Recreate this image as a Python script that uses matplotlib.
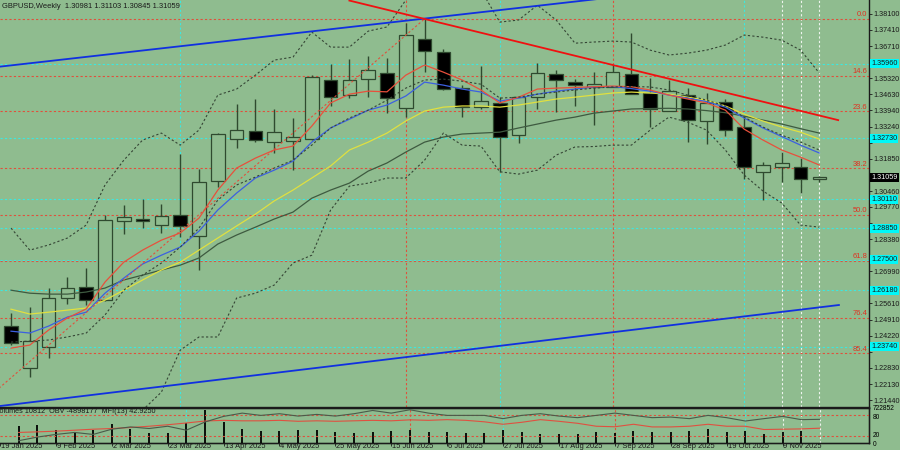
import numpy as np
import matplotlib.pyplot as plt
from matplotlib.transforms import blended_transform_factory

plt.rcParams['font.family'] = ['Liberation Sans', 'DejaVu Sans']

bg = '#8fbc8f'

# weekly candles, week 0 = 26 Jan 2025
opens = [1.2465, 1.2283, 1.2372, 1.2583, 1.2630, 1.2574, 1.2915, 1.2927, 1.2901, 1.2941,
         1.2852, 1.3089, 1.3269, 1.3305, 1.3259, 1.3262, 1.3269, 1.3524, 1.3459, 1.3528,
         1.3554, 1.3403, 1.3704, 1.3645, 1.3489, 1.3410, 1.3427, 1.3289, 1.3451, 1.3551,
         1.3515, 1.3494, 1.3496, 1.3551, 1.3468, 1.3393, 1.3460, 1.3350, 1.3429, 1.3324,
         1.3129, 1.3151, 1.3151, 1.30981]
highs = [1.2521, 1.2547, 1.2626, 1.2676, 1.2712, 1.2943, 1.2986, 1.3013, 1.2990, 1.3206,
         1.3142, 1.3298, 1.3422, 1.3443, 1.3400, 1.3360, 1.3547, 1.3593, 1.3615, 1.3630,
         1.3621, 1.3771, 1.3789, 1.3658, 1.3504, 1.3587, 1.3453, 1.3455, 1.3597, 1.3568,
         1.3529, 1.3558, 1.3590, 1.3727, 1.3532, 1.3525, 1.3489, 1.3470, 1.3442, 1.3367,
         1.3172, 1.3213, 1.3190, 1.31103]
lows = [1.2381, 1.2245, 1.2327, 1.2558, 1.2554, 1.2570, 1.2859, 1.2885, 1.2864, 1.2849,
        1.2705, 1.3062, 1.3233, 1.3259, 1.3209, 1.3137, 1.3266, 1.3413, 1.3449, 1.3453,
        1.3381, 1.3367, 1.3561, 1.3482, 1.3364, 1.3399, 1.3129, 1.3252, 1.3399, 1.3388,
        1.3413, 1.3330, 1.3494, 1.3465, 1.3324, 1.3390, 1.3259, 1.3248, 1.3285, 1.3096,
        1.3007, 1.3084, 1.3036, 1.30845]
closes = [1.2389, 1.2399, 1.2583, 1.2629, 1.2576, 1.2921, 1.2934, 1.2915, 1.2939, 1.2895,
          1.3084, 1.3291, 1.3308, 1.3268, 1.3301, 1.3279, 1.3538, 1.3450, 1.3524, 1.3570,
          1.3446, 1.3718, 1.3650, 1.3486, 1.3407, 1.3436, 1.3278, 1.3451, 1.3554, 1.3525,
          1.3502, 1.3507, 1.3558, 1.3466, 1.3400, 1.3476, 1.3353, 1.3425, 1.3309, 1.3151,
          1.3158, 1.3168, 1.3096, 1.31059]

# indicator lines
ma_red = [1.2368, 1.2381, 1.2446, 1.2498, 1.2537, 1.2653, 1.2739, 1.2791, 1.2834, 1.2865,
          1.2929, 1.3050, 1.3145, 1.3188, 1.3223, 1.3240, 1.3326, 1.3426, 1.3464, 1.3477,
          1.3474, 1.3546, 1.3590, 1.3559, 1.3525, 1.3482, 1.3426, 1.3451, 1.3486, 1.3490,
          1.3493, 1.3496, 1.3499, 1.3496, 1.3482, 1.3460, 1.3443, 1.3426, 1.3395, 1.3313,
          1.3266, 1.3223, 1.3192, 1.3158]
ma_blue = [1.2441, 1.2433, 1.2463, 1.2502, 1.2523, 1.2605, 1.2670, 1.2731, 1.2769, 1.2804,
           1.2873, 1.2964, 1.3037, 1.3102, 1.3136, 1.3175, 1.3257, 1.3318, 1.3356, 1.3395,
           1.3417, 1.3456, 1.3516, 1.3503, 1.3486, 1.3473, 1.3434, 1.3447, 1.3464, 1.3477,
           1.3486, 1.3495, 1.3497, 1.3488, 1.3477, 1.3460, 1.3447, 1.3432, 1.3408, 1.3361,
           1.3318, 1.3281, 1.3244, 1.3210]
ma_yellow = [1.2536, 1.2515, 1.2523, 1.2532, 1.2541, 1.2575, 1.2618, 1.2662, 1.2705, 1.2739,
             1.2791, 1.2843, 1.2895, 1.2946, 1.3003, 1.3050, 1.3102, 1.3154, 1.3223, 1.3257,
             1.3296, 1.3348, 1.3391, 1.3408, 1.3413, 1.3413, 1.3408, 1.3417, 1.3430, 1.3443,
             1.3451, 1.3460, 1.3469, 1.3473, 1.3469, 1.3464, 1.3451, 1.3438, 1.3413, 1.3378,
             1.3348, 1.3322, 1.3300, 1.3270]
ma_slow = [1.2618, 1.2605, 1.2601, 1.2601, 1.2610, 1.2627, 1.2662, 1.2683, 1.2705, 1.2726,
           1.2757, 1.2817, 1.2856, 1.2890, 1.2925, 1.2955, 1.3015, 1.3050, 1.3080, 1.3132,
           1.3167, 1.3214, 1.3257, 1.3279, 1.3292, 1.3296, 1.3300, 1.3318, 1.3335, 1.3352,
           1.3365, 1.3382, 1.3391, 1.3400, 1.3402, 1.3403, 1.3400, 1.3393, 1.3384, 1.3369,
           1.3352, 1.3335, 1.3315, 1.3296]
bb_mid = [1.2394, 1.2398, 1.2403, 1.2416, 1.2433, 1.2511, 1.2618, 1.2683, 1.2735, 1.2804,
          1.2886, 1.3007, 1.3072, 1.3106, 1.3145, 1.3179, 1.3244, 1.3318, 1.3361, 1.3395,
          1.3438, 1.3490, 1.3525, 1.3529, 1.3520, 1.3507, 1.3447, 1.3451, 1.3464, 1.3473,
          1.3482, 1.3490, 1.3495, 1.3497, 1.3495, 1.3482, 1.3460, 1.3438, 1.3413, 1.3365,
          1.3322, 1.3287, 1.3257, 1.3223]
bb_up = [1.2886, 1.2791, 1.2813, 1.2843, 1.2899, 1.3072, 1.3179, 1.3266, 1.3296, 1.3244,
         1.3309, 1.3460, 1.3486, 1.3546, 1.3611, 1.3624, 1.3732, 1.3667, 1.3667, 1.3736,
         1.3754, 1.3870, 1.3935, 1.3978, 1.3956, 1.3913, 1.3775, 1.3784, 1.3848, 1.3784,
         1.3684, 1.3689, 1.3693, 1.3689, 1.3654, 1.3633, 1.3641, 1.3654, 1.3676, 1.3719,
         1.3710, 1.3697, 1.3654, 1.3555]
bb_low = [1.1928, 1.1949, 1.1971, 1.1993, 1.2014, 1.2036, 1.2057, 1.2100, 1.2178, 1.2359,
          1.2416, 1.2416, 1.2584, 1.2605, 1.2640, 1.2735, 1.2769, 1.2964, 1.3067, 1.3080,
          1.3102, 1.3102, 1.3179, 1.3296, 1.3244, 1.3240, 1.3129, 1.3119, 1.3136, 1.3201,
          1.3236, 1.3238, 1.3244, 1.3244, 1.3309, 1.3365, 1.3343, 1.3309, 1.3223, 1.3115,
          1.3046, 1.2994, 1.2899, 1.2890]

volumes = [369000, 391000, 281000, 243000, 296000, 429000, 318000, 221000, 230000, 442000,
           722852, 464000, 318000, 259000, 265000, 281000, 281000, 243000, 230000, 243000,
           259000, 281000, 243000, 237000, 230000, 221000, 281000, 237000, 208000, 192000,
           192000, 237000, 230000, 259000, 237000, 237000, 265000, 309000, 252000, 259000,
           208000, 243000, 265000, 10812]
mfi = [30.6, 32.3, 34.3, 37.1, 40.0, 42.0, 44.9, 48.6, 52.9, 58.0,
       63.7, 65.7, 64.3, 64.3, 65.7, 62.9, 64.3, 62.9, 64.3, 65.7,
       64.3, 67.1, 65.7, 67.7, 65.7, 61.4, 54.3, 60.0, 67.7, 62.9,
       57.1, 48.6, 47.1, 54.3, 46.6, 46.6, 48.6, 54.3, 48.6, 48.6,
       39.1, 40.0, 40.9, 42.925]
obv_m = [-15.75, -13.90, -12.55, -11.55, -12.55, -9.90, -8.75, -9.55, -8.40, -10.40,
         -6.25, -3.40, -1.75, -2.90, -2.05, -3.25, -2.40, -3.25, -2.05, -0.40,
         -1.75, -0.05, -1.75, -2.90, -2.90, -2.90, -4.55, -2.90, -2.05, -3.25,
         -4.05, -2.90, -1.75, -2.90, -4.05, -3.75, -4.55, -2.90, -4.05, -5.75,
         -4.55, -3.40, -5.05, -4.898]

fibo_high = 1.3789
fibo_low = 1.2099
fibo_levels = [0.0, 14.6, 23.6, 38.2, 50.0, 61.8, 76.4, 85.4]
cyan_levels = [1.3596, 1.3273, 1.3011, 1.2885, 1.2750, 1.2618, 1.2374]
price_ticks = ['1.21440', '1.22130', '1.22830', '1.23520', '1.24220', '1.24910', '1.25610',
               '1.26300', '1.26990', '1.27690', '1.28380', '1.29080', '1.29770', '1.30460',
               '1.31160', '1.31850', '1.32550', '1.33240', '1.33940', '1.34630', '1.35320',
               '1.36020', '1.36710', '1.37410', '1.38100']
date_idx = [-1, 2, 5, 8, 11, 14, 17, 20, 23, 26, 29, 32, 35, 38, 41]
date_labels = ['19 Jan 2025', '9 Feb 2025', '2 Mar 2025', '23 Mar 2025', '13 Apr 2025',
               '4 May 2025', '25 May 2025', '15 Jun 2025', '6 Jul 2025', '27 Jul 2025',
               '17 Aug 2025', '7 Sep 2025', '28 Sep 2025', '19 Oct 2025', '9 Nov 2025']
cyan_vlines = [9, 26, 39]
red_vlines = [21, 32]
white_vlines = [41, 42, 43]

# trend lines (index, price) pairs
blue_upper = ([-1, 32], [1.3579, 1.3882])
blue_lower = ([-1, 44.04], [1.2114, 1.2554])
red_trend = ([18, 44.0], [1.3868, 1.3352])
fibo_base = ([-2, 22], [fibo_low, fibo_high])

weeks = np.arange(len(closes))
o = np.array(opens); c = np.array(closes)
h = np.array(highs); l = np.array(lows)
up = c >= o

edge = '#2f4a2f'
red_dot = '#e0503c'
cyan = '#3ce8e0'
txt = '#1a1a1a'
fs = 5.4      # dates, header, fibo labels
fs_ax = 5.2   # right-hand scale
xlim = (-0.585, 45.64)

fig = plt.figure(figsize=(9, 4.5), dpi=100, facecolor=bg)
ax = fig.add_axes([0, 1 - 407 / 450, 869 / 900, 407 / 450])
ind = fig.add_axes([0, 1 - 443 / 450, 869 / 900, 35.5 / 450])

for a in (ax, ind):
    a.set_facecolor(bg)
    a.set_xlim(*xlim)
    a.spines['left'].set_visible(False)
    for s in ('top', 'bottom', 'right'):
        a.spines[s].set_color(txt)
        a.spines[s].set_linewidth(1.0)
    for v in cyan_vlines:
        a.axvline(v, color=cyan, lw=0.8, ls=(0, (2, 2)), zorder=1)
    for v in red_vlines:
        a.axvline(v, color=red_dot, lw=0.8, ls=(0, (2, 2)), zorder=1)
    for v in white_vlines:
        a.axvline(v, color='#eef4ee', lw=0.8, ls=(0, (2, 2)), zorder=1)
ax.spines['top'].set_visible(False)

ax.set_ylim(1.21138, 1.38704)

# horizontal levels
for lv in fibo_levels:
    p = fibo_high - lv / 100 * (fibo_high - fibo_low)
    ax.axhline(p, color=red_dot, lw=0.8, ls=(0, (2, 2)), zorder=1)
    ax.text(45.55, p + 0.0003, f'{lv:.1f}', color='#e03020', fontsize=fs,
            ha='right', va='bottom', zorder=6)
for p in cyan_levels:
    ax.axhline(p, color=cyan, lw=0.8, ls=(0, (2, 2)), zorder=1)

# candles
ax.vlines(weeks, l, h, color=edge, lw=1.0, zorder=3)
ax.bar(weeks[up], (c - o)[up], bottom=o[up], width=0.72, color=bg,
       edgecolor=edge, linewidth=0.9, zorder=4)
ax.bar(weeks[~up], (o - c)[~up], bottom=c[~up], width=0.72, color='black',
       edgecolor=edge, linewidth=0.9, zorder=4)

# moving averages and bands
ax.plot(weeks, ma_slow, color='#3e5a40', lw=0.9, zorder=5)
ax.plot(weeks, ma_yellow, color='#e0e040', lw=0.9, zorder=5)
ax.plot(weeks, ma_blue, color='#3c60e0', lw=0.9, zorder=5)
ax.plot(weeks, ma_red, color='#e8503c', lw=0.9, zorder=5)
for band in (bb_up, bb_mid, bb_low):
    ax.plot(weeks, band, color='#354535', lw=0.8, ls=(0, (2, 2)), zorder=5)

# drawn objects
ax.plot(*fibo_base, color=red_dot, lw=0.8, ls=(0, (2, 2)), zorder=5)
ax.plot(*blue_upper, color='#1030e0', lw=1.3, zorder=6)
ax.plot(*blue_lower, color='#1030e0', lw=1.3, zorder=6)
ax.plot(*red_trend, color='#f01010', lw=1.3, zorder=6)

# price axis; labels hidden under the cyan / black boxes are left out
boxed = cyan_levels + [closes[-1]]
shown = ['' if min(abs(float(t) - b) for b in boxed) < 0.0025 else t for t in price_ticks]
ax.yaxis.tick_right()
ax.set_yticks([float(t) for t in price_ticks])
ax.set_yticklabels(shown, fontsize=fs_ax)
ax.tick_params(axis='y', length=2.5, width=0.6, pad=1, colors=txt)
ax.set_xticks([])

tr = blended_transform_factory(ax.transAxes, ax.transData)
for p in cyan_levels:
    ax.text(1.0025, p, f'{p:.5f}', transform=tr, fontsize=fs_ax, va='center', ha='left',
            color=txt, clip_on=False, zorder=8,
            bbox=dict(boxstyle='square,pad=0.15', fc='#00f8f8', ec='none'))
ax.text(1.0025, closes[-1], f'{closes[-1]:.5f}', transform=tr, fontsize=fs_ax, va='center',
        ha='left', color='white', clip_on=False, zorder=8,
        bbox=dict(boxstyle='square,pad=0.15', fc='black', ec='none'))

fig.text(2 / 900, 1 - 7 / 450,
         f'GBPUSD,Weekly  {opens[-1]:.5f} {highs[-1]:.5f} {lows[-1]:.5f} {closes[-1]:.5f}',
         fontsize=fs, va='center', ha='left', color=txt)

# indicator window: volumes, MFI, OBV
vmax = max(volumes) * 36 / 33
ind.set_ylim(0, vmax)
ind.vlines(weeks, 0, volumes, color='black', lw=1.3, zorder=3)
ind.set_yticks([])
mf = ind.twinx()
mf.set_ylim(0, 102.9)
mf.axhline(80, color=red_dot, lw=0.8, ls=(0, (2, 2)))
mf.axhline(20, color=red_dot, lw=0.8, ls=(0, (2, 2)))
mf.plot(weeks, mfi, color='#e05040', lw=0.8)
mf.set_yticks([])
ob = ind.twinx()
ob.set_ylim(-16.898, 1.102)
ob.plot(weeks, obv_m, color='#4a5a4a', lw=0.8)
ob.set_yticks([])
for a in (mf, ob):
    a.set_xlim(*xlim)
    a.spines['left'].set_visible(False)
    for s in ('top', 'bottom', 'right'):
        a.spines[s].set_color(txt)

ti = blended_transform_factory(ind.transAxes, ind.transData)
ind.text(1.004, max(volumes) * 1.06, str(max(volumes)), transform=ti, fontsize=4.8,
         va='center', ha='left', clip_on=False)
tm = blended_transform_factory(mf.transAxes, mf.transData)
mf.text(1.004, 75, '80', transform=tm, fontsize=4.8, va='center', ha='left', clip_on=False)
mf.text(1.004, 22, '20', transform=tm, fontsize=4.8, va='center', ha='left', clip_on=False)
mf.text(1.004, -4, '0', transform=tm, fontsize=4.8, va='center', ha='left', clip_on=False)

fig.text(-5 / 900, 1 - 411.5 / 450,
         f'Volumes {volumes[-1]}  OBV -4898177  MFI(13) {mfi[-1]:.4f}',
         fontsize=fs_ax, va='center', ha='left', color=txt)

ind.set_xticks(date_idx)
ind.set_xticklabels([])
ind.tick_params(axis='x', length=2, width=0.6, colors=txt)
for i, lab in zip(date_idx, date_labels):
    ind.text(i + 0.05, -0.1, lab, transform=blended_transform_factory(ind.transData, ind.transAxes),
             fontsize=fs, va='center', ha='left', color=txt, clip_on=False)

fig.savefig('out.png', dpi=100, facecolor=bg)
